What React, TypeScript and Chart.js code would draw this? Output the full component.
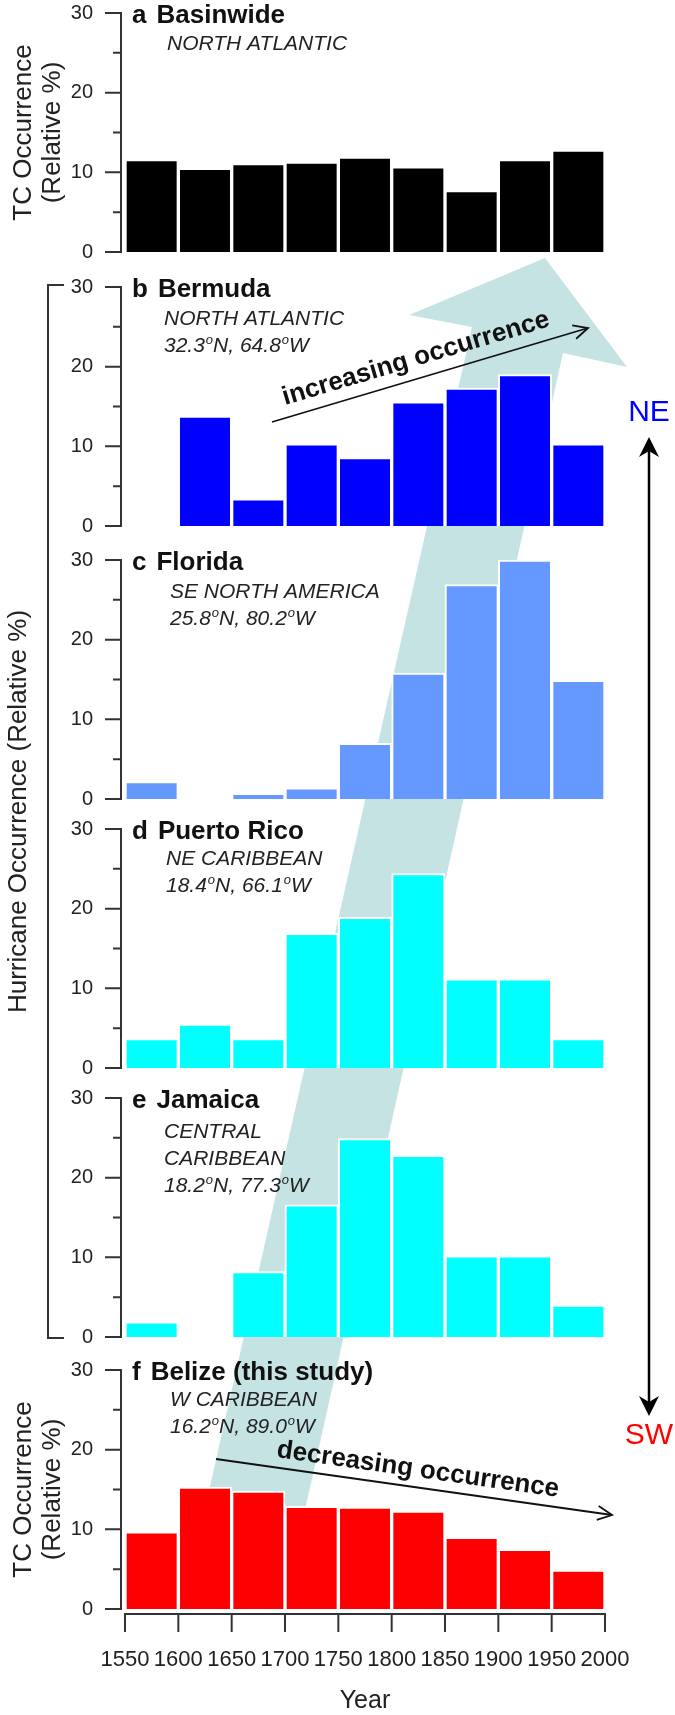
import React, { useEffect, useRef } from "react";
import { Chart, registerables } from "chart.js";

Chart.register(...registerables);

// ---------------- data ----------------
const YEAR_EDGES = [1550, 1600, 1650, 1700, 1750, 1800, 1850, 1900, 1950, 2000];
const BASINWIDE = [11.6, 10.5, 11.1, 11.3, 11.9, 10.7, 7.7, 11.6, 12.8];
const BERMUDA = [null, 13.8, 3.4, 10.3, 8.6, 15.6, 17.3, 19.0, 10.3];
const FLORIDA = [2.2, null, 0.7, 1.4, 7.0, 15.8, 26.9, 30.0, 14.9];
const PUERTO_RICO = [3.7, 5.5, 3.7, 16.9, 18.9, 24.4, 11.2, 11.2, 3.7];
const JAMAICA = [1.9, null, 8.2, 16.6, 24.9, 22.8, 10.2, 10.2, 4.0];
const BELIZE = [9.7, 15.3, 14.8, 12.9, 12.8, 12.3, 9.0, 7.5, 4.9];
const Y_MIN = 0;
const Y_MAX = 30;
const Y_STEP = 5;
const Y_LABEL_STEP = 10;
const X_STEP = 50;
const X_TITLE = "Year";

// ---------------- layout / style ----------------
const W = 675;
const H = 1715;
const FONT = '"Liberation Sans", Arial, Helvetica, sans-serif';
const PLOT_LEFT = 125;
const PLOT_RIGHT_PAD = 70;
const PLOT_H = 239;
const PAD_TOP = 13;
const PAD_BOTTOM = 14;
const PANEL_TOPS = [13, 287, 560, 829, 1098, 1370];
const AXIS_COLOR = "#333333";
const TEXT_COLOR = "#222222";
const TEAL = "#c6e3e3";

type Panel = {
  letter: string;
  name: string;
  lines: string[];
  color: string;
  data: (number | null)[];
  subX: number;
  subY: number;
};

const PANELS: Panel[] = [
  { letter: "a", name: "Basinwide", lines: ["NORTH ATLANTIC"], color: "#000000", data: BASINWIDE, subX: 167, subY: 37 },
  { letter: "b", name: "Bermuda", lines: ["NORTH ATLANTIC", "32.3^oN, 64.8^oW"], color: "#0000ff", data: BERMUDA, subX: 164, subY: 38 },
  { letter: "c", name: "Florida", lines: ["SE NORTH AMERICA", "25.8^oN, 80.2^oW"], color: "#6699ff", data: FLORIDA, subX: 170, subY: 38 },
  { letter: "d", name: "Puerto Rico", lines: ["NE CARIBBEAN", "18.4^oN, 66.1^oW"], color: "#00ffff", data: PUERTO_RICO, subX: 166, subY: 36 },
  { letter: "e", name: "Jamaica", lines: ["CENTRAL", "CARIBBEAN", "18.2^oN, 77.3^oW"], color: "#00ffff", data: JAMAICA, subX: 164, subY: 40 },
  { letter: "f", name: "Belize (this study)", lines: ["W CARIBBEAN", "16.2^oN, 89.0^oW"], color: "#ff0000", data: BELIZE, subX: 170, subY: 36 },
];

// Detached axes (SigmaPlot style): drawn from the chart's own scales
const axisPlugin = {
  id: "detachedAxes",
  afterDraw(chart: any) {
    const { ctx, chartArea, scales } = chart;
    const y = scales.y;
    const ax = chartArea.left - 4;
    ctx.save();
    ctx.strokeStyle = AXIS_COLOR;
    ctx.lineWidth = 2;
    ctx.lineCap = "butt";
    ctx.beginPath();
    ctx.moveTo(ax, y.getPixelForValue(Y_MIN) + 1);
    ctx.lineTo(ax, y.getPixelForValue(Y_MAX) - 1);
    y.ticks.forEach((t: any) => {
      const py = y.getPixelForValue(t.value);
      const len = t.value % Y_LABEL_STEP === 0 ? 16 : 8;
      ctx.moveTo(ax + 1, py);
      ctx.lineTo(ax - len, py);
    });
    ctx.stroke();
    const opts = chart.options.plugins.detachedAxes || {};
    if (opts.showX) {
      const x = scales.x;
      const ay = chartArea.bottom + 5;
      const values: number[] =
        x.ticks && x.ticks.length ? x.ticks.map((t: any) => t.value) : YEAR_EDGES.slice();
      ctx.beginPath();
      ctx.moveTo(x.getPixelForValue(YEAR_EDGES[0]) - 1, ay);
      ctx.lineTo(x.getPixelForValue(YEAR_EDGES[YEAR_EDGES.length - 1]) + 1, ay);
      values.forEach((v) => {
        const px = x.getPixelForValue(v);
        ctx.moveTo(px, ay - 1);
        ctx.lineTo(px, ay + 18);
      });
      ctx.stroke();
      ctx.fillStyle = TEXT_COLOR;
      ctx.textAlign = "center";
      ctx.textBaseline = "middle";
      ctx.font = `22px ${FONT}`;
      values.forEach((v) => {
        ctx.fillText(String(v), x.getPixelForValue(v), chartArea.bottom + 51);
      });
      ctx.font = `25px ${FONT}`;
      ctx.fillText(X_TITLE, (chartArea.left + chartArea.right) / 2, chartArea.bottom + 92);
    }
    ctx.restore();
  },
};

function PanelChart({ panel, plotTop, last }: { panel: Panel; plotTop: number; last: boolean }) {
  const ref = useRef<HTMLCanvasElement>(null);
  const canvasTop = plotTop - PAD_TOP;
  const padBottom = last ? H - (plotTop + PLOT_H) : PAD_BOTTOM;
  const height = PAD_TOP + PLOT_H + padBottom;
  useEffect(() => {
    const centers = YEAR_EDGES.slice(0, -1).map((e, i) => (e + YEAR_EDGES[i + 1]) / 2);
    const chart = new Chart(ref.current as HTMLCanvasElement, {
      type: "bar",
      data: {
        datasets: [
          {
            data: panel.data.map((v, i) => ({ x: centers[i], y: v })) as any,
            backgroundColor: panel.color,
            borderColor: "#ffffff",
            borderWidth: 2,
            barPercentage: 1,
            categoryPercentage: 1,
          },
        ],
      },
      options: {
        responsive: false,
        animation: false,
        devicePixelRatio: 1,
        events: [],
        layout: { padding: { top: PAD_TOP, bottom: padBottom, left: 0, right: PLOT_RIGHT_PAD } },
        plugins: {
          legend: { display: false },
          tooltip: { enabled: false },
          detachedAxes: { showX: last },
        } as any,
        scales: {
          x: {
            type: "linear",
            min: YEAR_EDGES[0],
            max: YEAR_EDGES[YEAR_EDGES.length - 1],
            offset: false,
            display: false,
            ticks: { stepSize: X_STEP, autoSkip: false },
          },
          y: {
            min: Y_MIN,
            max: Y_MAX,
            grid: { display: false, drawTicks: true, tickLength: 32 },
            border: { display: false },
            ticks: {
              stepSize: Y_STEP,
              autoSkip: false,
              padding: 0,
              color: TEXT_COLOR,
              font: { family: FONT, size: 20 },
              callback: (v: any) => (Number(v) % Y_LABEL_STEP === 0 ? String(v) : ""),
            },
            afterFit: (s: any) => {
              s.width = PLOT_LEFT;
            },
          },
        },
      } as any,
      plugins: [axisPlugin],
    });
    return () => chart.destroy();
  }, []);
  return (
    <canvas
      ref={ref}
      width={W}
      height={height}
      style={{ position: "absolute", left: 0, top: canvasTop, width: W, height }}
    />
  );
}

function drawRich(ctx: CanvasRenderingContext2D, s: string, x: number, y: number, size: number) {
  const parts = s.split("^o");
  let cx = x;
  parts.forEach((p, i) => {
    ctx.font = `italic ${size}px ${FONT}`;
    ctx.fillText(p, cx, y);
    cx += ctx.measureText(p).width;
    if (i < parts.length - 1) {
      const ss = Math.round(size * 0.62);
      ctx.font = `italic ${ss}px ${FONT}`;
      ctx.fillText("o", cx + 1, y - size * 0.4);
      cx += ctx.measureText("o").width + 1;
    }
  });
}

function openHead(ctx: CanvasRenderingContext2D, x: number, y: number, ang: number, len: number, spread: number) {
  ctx.beginPath();
  ctx.moveTo(x - len * Math.cos(ang - spread), y - len * Math.sin(ang - spread));
  ctx.lineTo(x, y);
  ctx.lineTo(x - len * Math.cos(ang + spread), y - len * Math.sin(ang + spread));
  ctx.stroke();
}

function stealthHead(ctx: CanvasRenderingContext2D, x: number, y: number, ang: number, len: number, half: number) {
  const ux = Math.cos(ang), uy = Math.sin(ang);
  const nx = -uy, ny = ux;
  const bx = x - ux * len, by = y - uy * len;
  const mx = x - ux * len * 0.7, my = y - uy * len * 0.7;
  ctx.beginPath();
  ctx.moveTo(x, y);
  ctx.lineTo(bx + nx * half, by + ny * half);
  ctx.lineTo(mx, my);
  ctx.lineTo(bx - nx * half, by - ny * half);
  ctx.closePath();
  ctx.fill();
}

function drawBackground(ctx: CanvasRenderingContext2D) {
  ctx.clearRect(0, 0, W, H);
  ctx.fillStyle = TEAL;
  ctx.beginPath();
  ctx.moveTo(545, 258);
  ctx.lineTo(627, 367);
  ctx.lineTo(563, 353);
  ctx.lineTo(305, 1510);
  ctx.lineTo(208, 1495);
  ctx.lineTo(472, 327);
  ctx.lineTo(409, 315);
  ctx.closePath();
  ctx.fill();
}

function drawOverlay(ctx: CanvasRenderingContext2D) {
  ctx.clearRect(0, 0, W, H);
  ctx.textBaseline = "alphabetic";

  // panel titles and subtitles
  PANELS.forEach((p, i) => {
    const top = PANEL_TOPS[i];
    ctx.fillStyle = "#111111";
    ctx.textAlign = "left";
    ctx.font = `bold 26px ${FONT}`;
    ctx.fillText(p.letter, 132, top + 10);
    const lw = ctx.measureText(p.letter).width;
    ctx.fillText(p.name, 132 + lw + 10, top + 10);
    ctx.fillStyle = TEXT_COLOR;
    p.lines.forEach((ln, k) => drawRich(ctx, ln, p.subX, top + p.subY + 27 * k, 21));
  });

  // y titles for panels a and f
  const tcTitle = (cy: number) => {
    ctx.save();
    ctx.fillStyle = TEXT_COLOR;
    ctx.font = `26px ${FONT}`;
    ctx.textAlign = "center";
    ctx.translate(31, cy);
    ctx.rotate(-Math.PI / 2);
    ctx.fillText("TC Occurrence", 0, 0);
    ctx.restore();
    ctx.save();
    ctx.fillStyle = TEXT_COLOR;
    ctx.font = `26px ${FONT}`;
    ctx.textAlign = "center";
    ctx.translate(60, cy);
    ctx.rotate(-Math.PI / 2);
    ctx.fillText("(Relative %)", 0, 0);
    ctx.restore();
  };
  tcTitle(PANEL_TOPS[0] + PLOT_H / 2);
  tcTitle(PANEL_TOPS[5] + PLOT_H / 2);

  // bracket for b-e
  const bTop = PANEL_TOPS[1] - 2;
  const bBot = PANEL_TOPS[4] + PLOT_H + 1;
  ctx.strokeStyle = AXIS_COLOR;
  ctx.lineWidth = 2;
  ctx.beginPath();
  ctx.moveTo(64, bTop);
  ctx.lineTo(48, bTop);
  ctx.lineTo(48, bBot);
  ctx.lineTo(64, bBot);
  ctx.stroke();

  ctx.save();
  ctx.fillStyle = TEXT_COLOR;
  ctx.font = `26px ${FONT}`;
  ctx.textAlign = "center";
  ctx.translate(26, (bTop + bBot) / 2);
  ctx.rotate(-Math.PI / 2);
  ctx.fillText("Hurricane Occurrence (Relative %)", 0, 0);
  ctx.restore();

  // NE - SW double arrow
  ctx.strokeStyle = "#000000";
  ctx.fillStyle = "#000000";
  ctx.lineWidth = 2.5;
  ctx.beginPath();
  ctx.moveTo(649, 445);
  ctx.lineTo(649, 1408);
  ctx.stroke();
  stealthHead(ctx, 649, 437, -Math.PI / 2, 20, 10);
  stealthHead(ctx, 649, 1416, Math.PI / 2, 20, 10);

  ctx.textAlign = "center";
  ctx.textBaseline = "middle";
  ctx.font = `30px ${FONT}`;
  ctx.fillStyle = "#0000ff";
  ctx.fillText("NE", 649, 413);
  ctx.fillStyle = "#ff0000";
  ctx.fillText("SW", 649, 1436);
  ctx.textBaseline = "alphabetic";

  // increasing occurrence
  ctx.strokeStyle = "#111111";
  ctx.lineWidth = 1.8;
  ctx.beginPath();
  ctx.moveTo(272, 422);
  ctx.lineTo(588, 328);
  ctx.stroke();
  openHead(ctx, 588, 328, Math.atan2(328 - 422, 588 - 272), 16, 0.45);
  ctx.save();
  ctx.fillStyle = "#111111";
  ctx.font = `bold 26px ${FONT}`;
  ctx.textAlign = "left";
  ctx.translate(285, 405);
  ctx.rotate(Math.atan2(328 - 422, 588 - 272));
  ctx.fillText("increasing occurrence", 0, 0);
  ctx.restore();

  // decreasing occurrence
  ctx.beginPath();
  ctx.moveTo(216, 1459);
  ctx.lineTo(612, 1515);
  ctx.stroke();
  openHead(ctx, 612, 1515, Math.atan2(1515 - 1459, 612 - 216), 16, 0.45);
  ctx.save();
  ctx.fillStyle = "#111111";
  ctx.font = `bold 26px ${FONT}`;
  ctx.textAlign = "left";
  ctx.translate(276, 1457);
  ctx.rotate(Math.atan2(1515 - 1459, 612 - 216));
  ctx.fillText("decreasing occurrence", 0, 0);
  ctx.restore();
}

export default function App() {
  const bgRef = useRef<HTMLCanvasElement>(null);
  const fgRef = useRef<HTMLCanvasElement>(null);
  useEffect(() => {
    const bg = bgRef.current?.getContext("2d");
    if (bg) drawBackground(bg);
    const fg = fgRef.current?.getContext("2d");
    if (fg) drawOverlay(fg);
  }, []);
  return (
    <div
      style={{
        position: "absolute",
        left: 0,
        top: 0,
        width: W,
        height: H,
        background: "#ffffff",
        overflow: "hidden",
      }}
    >
      <canvas ref={bgRef} width={W} height={H} style={{ position: "absolute", left: 0, top: 0 }} />
      {PANELS.map((p, i) => (
        <PanelChart key={p.letter} panel={p} plotTop={PANEL_TOPS[i]} last={i === PANELS.length - 1} />
      ))}
      <canvas
        ref={fgRef}
        width={W}
        height={H}
        style={{ position: "absolute", left: 0, top: 0, pointerEvents: "none" }}
      />
    </div>
  );
}
